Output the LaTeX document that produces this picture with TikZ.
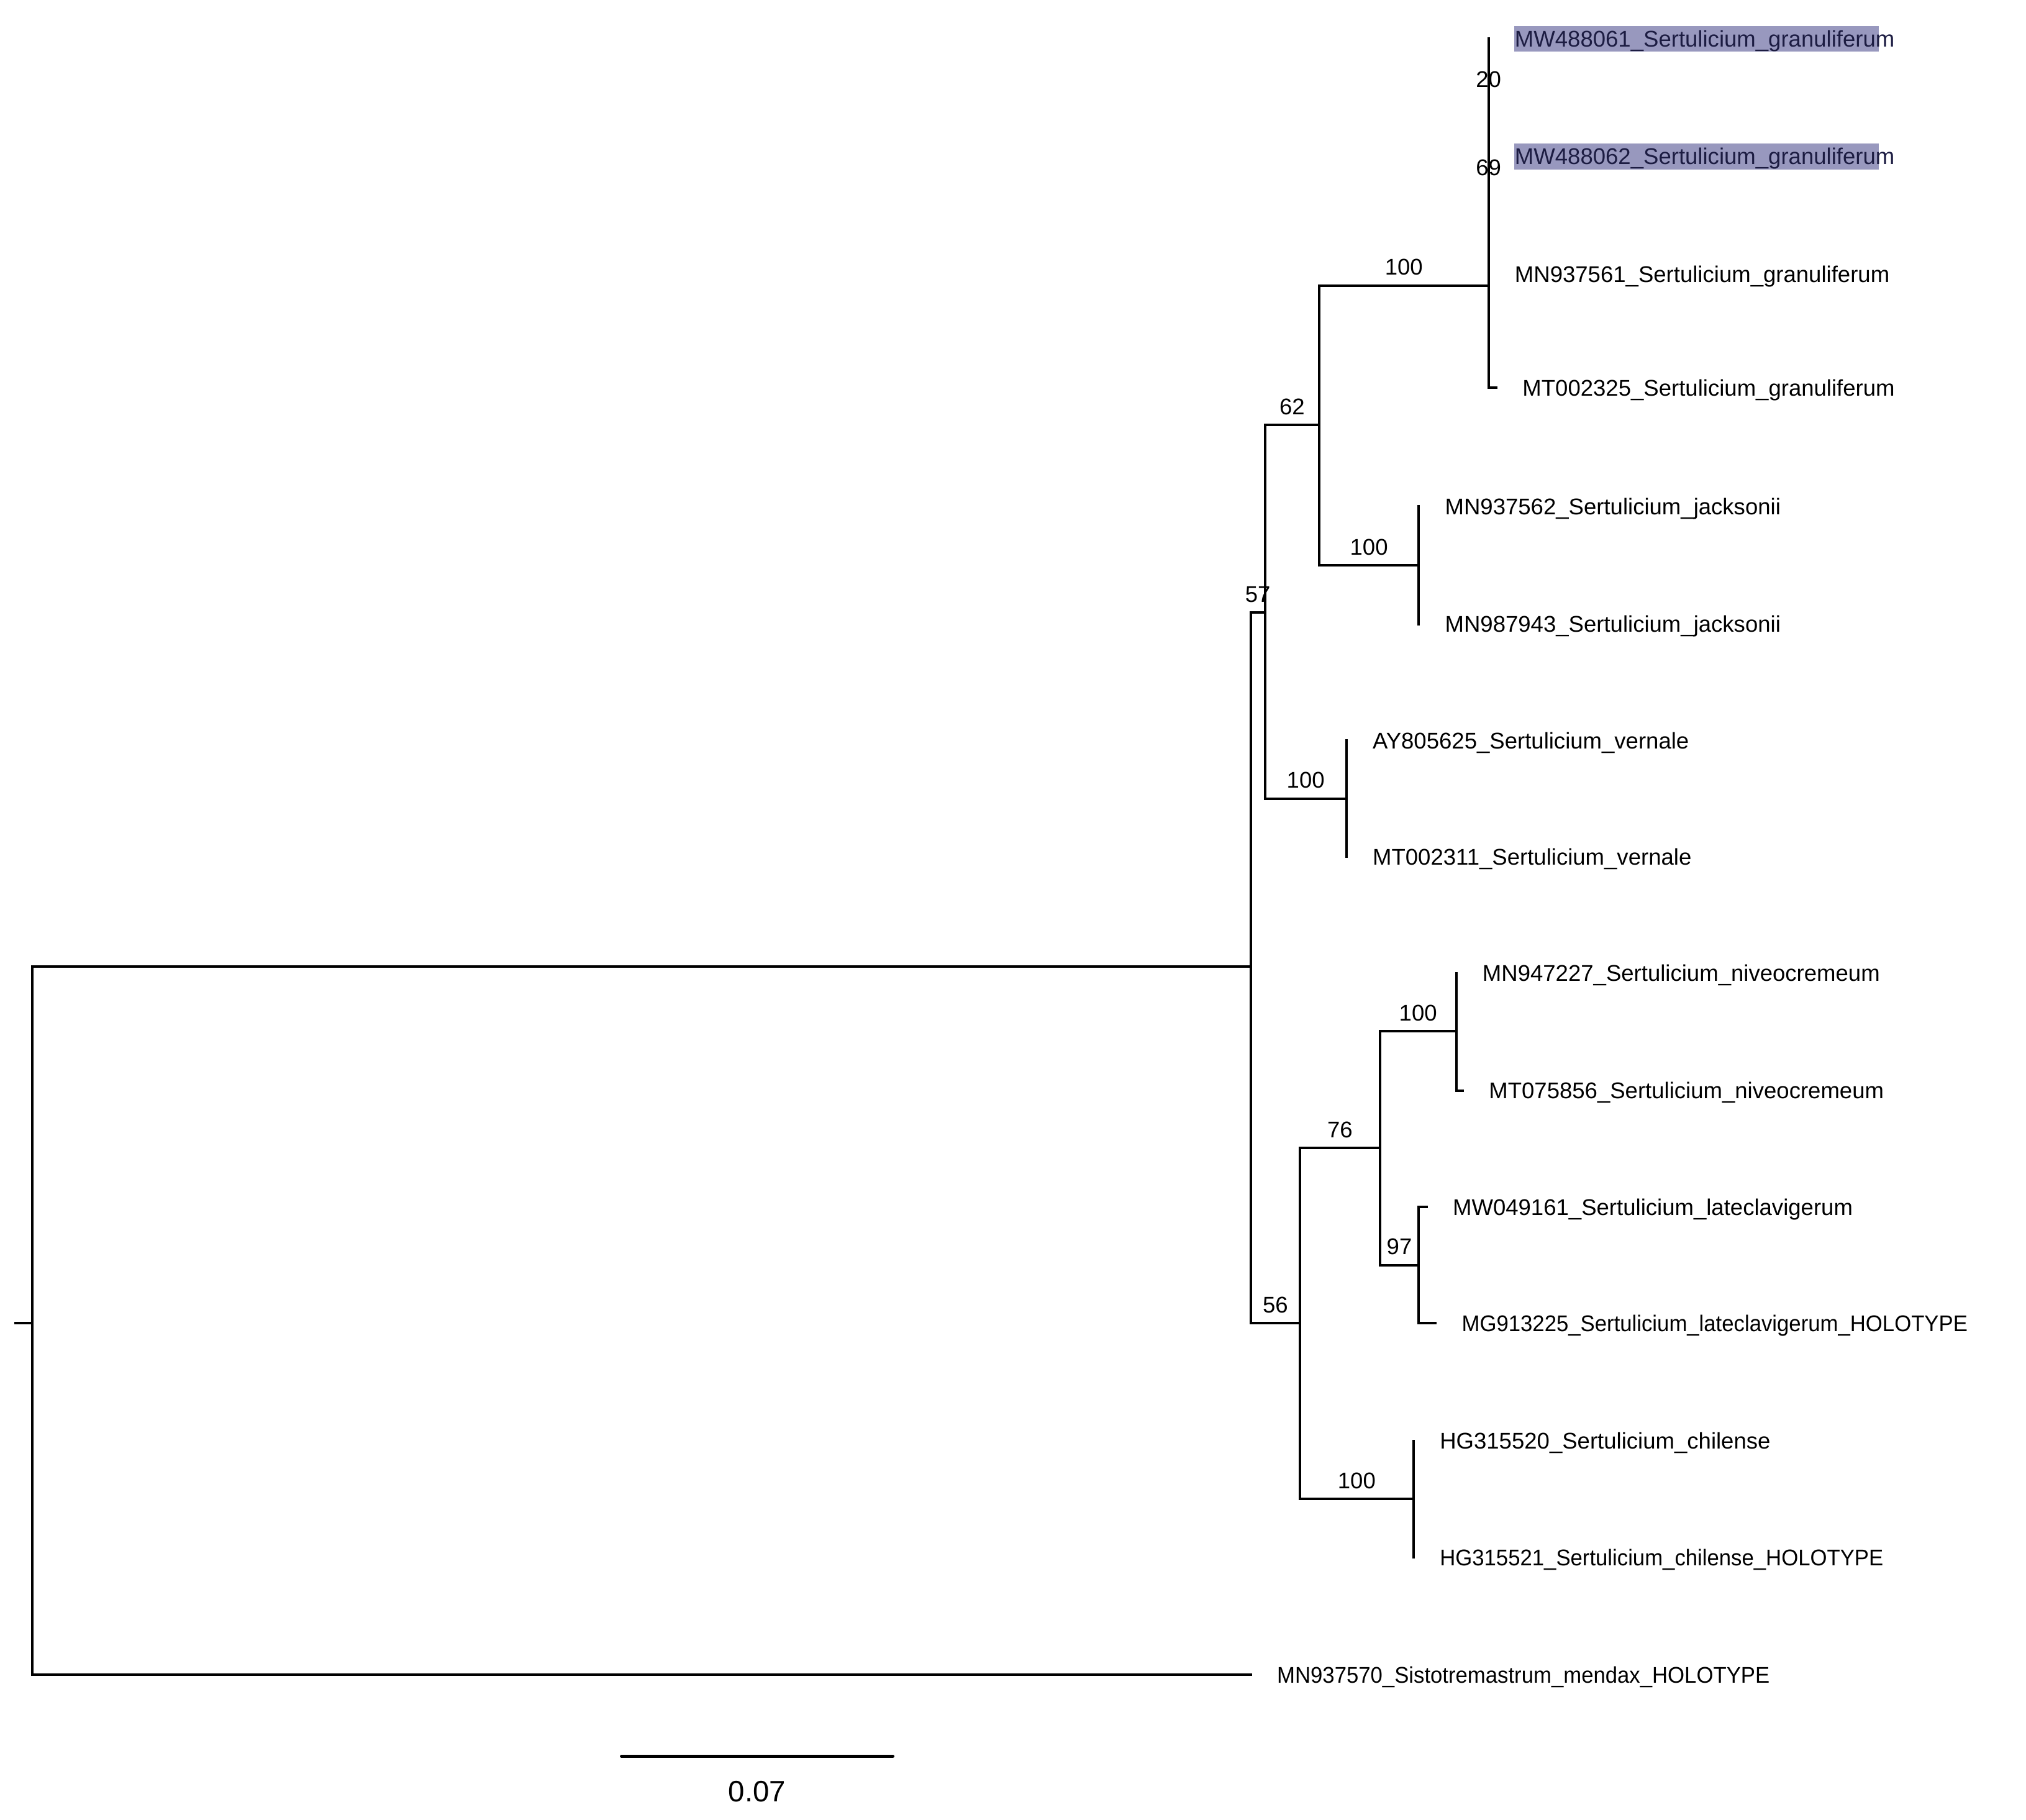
\documentclass[tikz,border=0pt]{standalone}
\usepackage{fontspec}
\setmainfont{Liberation Sans}
\usepackage{xcolor}
\usetikzlibrary{positioning,calc}
\definecolor{hilite}{RGB}{152,152,190}
\definecolor{hitext}{RGB}{28,28,66}
\newcommand{\squeeze}[1]{\scalebox{0.95}[1]{#1}}
\tikzset{
    branch/.style={line width=1.1pt, line cap=rect},
    taxon/.style={anchor=west, inner sep=0pt, font=\fontsize{10}{12}\selectfont, text height=7.2pt, text depth=0pt},
    support/.style={anchor=south, inner sep=0pt, yshift=1.4mm, font=\fontsize{10}{12}\selectfont}}

\begin{document}
\begin{tikzpicture}[x=0.02cm,y=-0.02cm]
\useasboundingbox (0,0) rectangle (1568,1408);
% internal nodes
\coordinate (R0) at (12,1024);
\coordinate (root) at (25,1024);
\coordinate (ingrp) at (968,748);
\coordinate (n57) at (979,474);
\coordinate (n62) at (1021,329);
\coordinate (gran) at (1152,221);
\coordinate (gran69) at (1152,143.75);
\coordinate (gran20) at (1152,75.5);
\coordinate (jack) at (1098,437.5);
\coordinate (vern) at (1042,618);
\coordinate (n56) at (1006,1024);
\coordinate (n76) at (1068,888.5);
\coordinate (nive) at (1127,798);
\coordinate (late) at (1098,979);
\coordinate (chil) at (1094,1160);
% tips
\coordinate (MW488061) at (1152,30);
\coordinate (MW488062) at (1152,121);
\coordinate (MN937561) at (1152,212);
\coordinate (MT002325) at (1158,300);
\coordinate (MN937562) at (1098,392);
\coordinate (MN987943) at (1098,483);
\coordinate (AY805625) at (1042,573);
\coordinate (MT002311) at (1042,663);
\coordinate (MN947227) at (1127,753);
\coordinate (MT075856) at (1132,844);
\coordinate (MW049161) at (1104,934);
\coordinate (MG913225) at (1111,1024);
\coordinate (HG315520) at (1094,1115);
\coordinate (HG315521) at (1094,1205);
\coordinate (MN937570) at (968,1296);

% highlighted samples
\fill[hilite] (1172,20) rectangle (1454,40);
\fill[hilite] (1172,111) rectangle (1454,131);

% branches
\draw[branch] (R0) -- (root);
\draw[branch] (root) |- (ingrp);
\draw[branch] (root) |- (MN937570);
\draw[branch] (ingrp) |- (n57) node[support,pos=0.75] {57};
\draw[branch] (ingrp) |- (n56) node[support,pos=0.75] {56};
\draw[branch] (n57) |- (n62) node[support,pos=0.75] {62};
\draw[branch] (n57) |- (vern) node[support,pos=0.75] {100};
\draw[branch] (n62) |- (gran) node[support,pos=0.75] {100};
\draw[branch] (n62) |- (jack) node[support,pos=0.75] {100};
\draw[branch] (gran) |- (gran69) node[support,pos=1] {69};
\draw[branch] (gran) |- (MT002325);
\draw[branch] (gran69) |- (gran20) node[support,pos=1] {20};
\draw[branch] (gran69) |- (MN937561);
\draw[branch] (gran20) |- (MW488061);
\draw[branch] (gran20) |- (MW488062);
\draw[branch] (jack) |- (MN937562);
\draw[branch] (jack) |- (MN987943);
\draw[branch] (vern) |- (AY805625);
\draw[branch] (vern) |- (MT002311);
\draw[branch] (n56) |- (n76) node[support,pos=0.75] {76};
\draw[branch] (n56) |- (chil) node[support,pos=0.75] {100};
\draw[branch] (n76) |- (nive) node[support,pos=0.75] {100};
\draw[branch] (n76) |- (late) node[support,pos=0.75] {97};
\draw[branch] (nive) |- (MN947227);
\draw[branch] (nive) |- (MT075856);
\draw[branch] (late) |- (MW049161);
\draw[branch] (late) |- (MG913225);
\draw[branch] (chil) |- (HG315520);
\draw[branch] (chil) |- (HG315521);

% taxon names
\node[taxon, text=hitext, right=4mm of MW488061] (lMW488061) {MW488061\_Sertulicium\_granuliferum};
\node[taxon, text=hitext, right=4mm of MW488062] (lMW488062) {MW488062\_Sertulicium\_granuliferum};
\node[taxon, right=4mm of MN937561] (lMN937561) {MN937561\_Sertulicium\_granuliferum};
\node[taxon, right=4mm of MT002325] (lMT002325) {MT002325\_Sertulicium\_granuliferum};
\node[taxon, right=4mm of MN937562] (lMN937562) {MN937562\_Sertulicium\_jacksonii};
\node[taxon, right=4mm of MN987943] (lMN987943) {MN987943\_Sertulicium\_jacksonii};
\node[taxon, right=4mm of AY805625] (lAY805625) {AY805625\_Sertulicium\_vernale};
\node[taxon, right=4mm of MT002311] (lMT002311) {MT002311\_Sertulicium\_vernale};
\node[taxon, right=4mm of MN947227] (lMN947227) {MN947227\_Sertulicium\_niveocremeum};
\node[taxon, right=4mm of MT075856] (lMT075856) {MT075856\_Sertulicium\_niveocremeum};
\node[taxon, right=4mm of MW049161] (lMW049161) {MW049161\_Sertulicium\_lateclavigerum};
\node[taxon, right=4mm of MG913225] (lMG913225) {\squeeze{MG913225\_Sertulicium\_lateclavigerum\_HOLOTYPE}};
\node[taxon, right=4mm of HG315520] (lHG315520) {HG315520\_Sertulicium\_chilense};
\node[taxon, right=4mm of HG315521] (lHG315521) {\squeeze{HG315521\_Sertulicium\_chilense\_HOLOTYPE}};
\node[taxon, right=4mm of MN937570] (lMN937570) {\squeeze{MN937570\_Sistotremastrum\_mendax\_HOLOTYPE}};

% scale bar
\coordinate (sbL) at (481,1359);
\coordinate (sbR) at (691,1359);
\draw[line width=1.4pt, line cap=round] (sbL) -- (sbR)
  node[midway, anchor=north, inner sep=0pt, yshift=-3.6mm, font=\fontsize{13}{15}\selectfont] (sbLabel) {0.07};
\end{tikzpicture}
\end{document}
